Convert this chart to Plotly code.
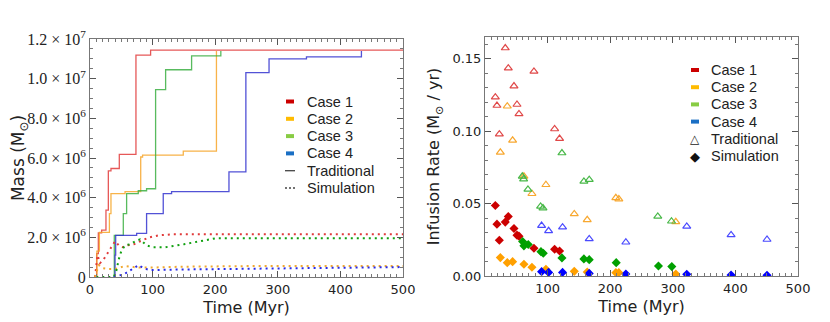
import plotly.graph_objects as go

# ---------------------------------------------------------------------------
# Left panel: cumulative mass (step lines = Traditional, dotted = Simulation)
# ---------------------------------------------------------------------------
trad1_t = [10.6, 10.6, 13.3, 18.6, 25.5, 29.3, 33.5, 46.8, 73.4, 96.8, 500]
trad1_m = [0, 1.18e6, 2.22e6, 2.36e6, 3.37e6, 5.35e6, 5.47e6, 6.18e6, 11.19e6, 11.44e6, 11.44e6]
trad2_t = [11, 11, 15, 31, 33.5, 56, 81, 84, 149, 202]
trad2_m = [0, 1.3e6, 2.25e6, 3.2e6, 4.2e6, 4.3e6, 6.05e6, 6.15e6, 6.35e6, 11.4e6]
trad3_t = [38.8, 38.8, 53.2, 58.5, 77.1, 90.4, 104.8, 120.8, 162.3, 209]
trad3_m = [0, 2.1e6, 3.2e6, 4.2e6, 4.35e6, 4.45e6, 9.45e6, 10.45e6, 11.15e6, 11.4e6]
trad4_t = [40, 40, 41, 74.5, 90.4, 117, 130.3, 222, 249, 286, 345.8, 433.6]
trad4_m = [0, 1.1e6, 2.1e6, 2.2e6, 3.2e6, 4.2e6, 4.3e6, 5.3e6, 10.3e6, 11.0e6, 11.1e6, 11.4e6]

sim1_t = [8, 12, 16, 22, 28, 34, 40, 46, 52, 60, 70, 80, 95, 110, 130, 200, 300, 500]
sim1_m = [0, 1.1e6, 0.7e6, 0.9e6, 1.2e6, 1.5e6, 1.8e6, 1.6e6, 1.5e6, 1.6e6, 1.65e6, 1.8e6,
          2.0e6, 2.1e6, 2.15e6, 2.15e6, 2.15e6, 2.15e6]
sim2_t = [8, 14, 20, 30, 40, 55, 70, 80, 100, 150, 250, 500]
sim2_m = [0, 0.6e6, 0.45e6, 0.4e6, 0.4e6, 0.55e6, 0.5e6, 0.48e6, 0.48e6, 0.52e6, 0.55e6, 0.55e6]
sim3_t = [10, 38, 42, 46, 50, 56, 64, 72, 80, 90, 100, 120, 150, 180, 200, 250, 500]
sim3_m = [0, 0, 0.3e6, 0.9e6, 1.3e6, 1.6e6, 1.65e6, 1.8e6, 1.9e6, 1.6e6, 1.5e6, 1.5e6,
          1.65e6, 1.85e6, 1.95e6, 1.95e6, 1.95e6]
sim4_t = [38, 45, 55, 65, 72, 78, 85, 95, 150, 250, 350, 500]
sim4_m = [0, 0.05e6, 0.15e6, 0.35e6, 0.5e6, 0.6e6, 0.45e6, 0.35e6, 0.38e6, 0.42e6, 0.46e6, 0.5e6]

mass_ticks = [0, 2e6, 4e6, 6e6, 8e6, 10e6, 12e6]
mass_labels = ['0', '2.0 × 10<sup>6</sup>', '4.0 × 10<sup>6</sup>', '6.0 × 10<sup>6</sup>',
               '8.0 × 10<sup>6</sup>', '1.0 × 10<sup>7</sup>', '1.2 × 10<sup>7</sup>']

# ---------------------------------------------------------------------------
# Right panel: infusion rate (open triangles = Traditional, diamonds = Simulation)
# ---------------------------------------------------------------------------
r1_t = [16.5, 19.1, 22.9, 32.4, 37.2, 46.3, 51.1, 54.3, 78.2, 111.2, 119.1]
r1_trad = [0.1235, 0.1177, 0.0979, 0.1574, 0.1435, 0.1311, 0.1184, 0.1119, 0.1412, 0.1015, 0.0949]
r1_sim = [0.0487, 0.0358, 0.0247, 0.0372, 0.0411, 0.0328, 0.0282, 0.0275, 0.0192, 0.0185, 0.0173]

r2_t = [24.5, 35.6, 44.1, 62.2, 75.0, 97.3, 142.6, 163.3, 209.0, 213.8, 304.8]
r2_trad = [0.0854, 0.1172, 0.0937, 0.0688, 0.0568, 0.0630, 0.0429, 0.0388, 0.0540, 0.0531, 0.0374]
r2_sim = [0.0127, 0.0092, 0.0099, 0.0081, 0.0060, 0.0046, 0.0032, 0.0028, 0.0023, 0.0023, 0.0014]

r3_trad_t = [59.6, 61.7, 68.6, 88.8, 92.6, 122.9, 158.0, 166.5, 276.0, 297.9]
r3_trad = [0.0688, 0.0669, 0.0598, 0.0480, 0.0469, 0.0849, 0.0653, 0.0665, 0.0411, 0.0378]
r3_sim_t = [60.1, 62.2, 69.1, 89.4, 93.1, 122.9, 158.0, 166.5, 209.6, 277.1, 298.4]
r3_sim = [0.0238, 0.0208, 0.0217, 0.0168, 0.0157, 0.0125, 0.0118, 0.0113, 0.0092, 0.0069, 0.0065]

r4_t = [90.4, 101.6, 123.9, 166.5, 225.0, 322.3, 393.1, 450.5]
r4_trad = [0.0348, 0.0312, 0.0337, 0.0256, 0.0233, 0.0342, 0.0284, 0.0252]
r4_sim = [0.0030, 0.0025, 0.0025, 0.0018, 0.0014, 0.0012, 0.0007, 0.0005]

case_names = ['Case 1', 'Case 2', 'Case 3', 'Case 4']
legend_colors = ['#cc0000', '#ffbb00', '#88cc44', '#1a6fc4']
line_colors = ['#e23c3c', '#f7a62a', '#3cb043', '#3434d0']
dot_colors = ['#e03a3a', '#f0a830', '#10a010', '#2a2ae6']
tri_colors = ['#e04848', '#f8a830', '#48b848', '#4a4aff']
dia_colors = ['#cc0000', '#ffa000', '#00a000', '#0000ff']

# The page body adds an 8px margin, so the figure is 8px smaller than the
# window and screen positions are shifted back by 8px.
OFF = 8
W, H = 830 - OFF, 322 - OFF


def px_x(v):
    return (v - OFF) / W


def px_y(v):
    return 1 - (v - OFF) / H


fig = go.Figure()

# Left panel traces
for t, m, c in zip([trad1_t, trad2_t, trad3_t, trad4_t], [trad1_m, trad2_m, trad3_m, trad4_m],
                   line_colors):
    fig.add_trace(go.Scatter(x=t, y=m, mode='lines', line=dict(color=c, width=1.3, shape='hv'),
                             opacity=0.85, showlegend=False, xaxis='x', yaxis='y'))
for t, m, c in zip([sim1_t, sim2_t, sim3_t, sim4_t], [sim1_m, sim2_m, sim3_m, sim4_m],
                   dot_colors):
    fig.add_trace(go.Scatter(x=t, y=m, mode='lines',
                             line=dict(color=c, width=2, dash='2px,4px'),
                             showlegend=False, xaxis='x', yaxis='y'))

# Right panel traces
for t, r, c in zip([r1_t, r2_t, r3_trad_t, r4_t], [r1_trad, r2_trad, r3_trad, r4_trad], tri_colors):
    fig.add_trace(go.Scatter(x=t, y=r, mode='markers',
                             marker=dict(symbol='triangle-up-open', size=7, color=c,
                                         line=dict(width=1.2, color=c)),
                             showlegend=False, xaxis='x2', yaxis='y2'))
for t, r, c in zip([r1_t, r2_t, r3_sim_t, r4_t], [r1_sim, r2_sim, r3_sim, r4_sim], dia_colors):
    fig.add_trace(go.Scatter(x=t, y=r, mode='markers',
                             marker=dict(symbol='diamond', size=7, color=c),
                             showlegend=False, xaxis='x2', yaxis='y2'))

# ---------------------------------------------------------------------------
# Hand-placed legends (pixel positions -> paper coordinates)
# ---------------------------------------------------------------------------
legend_font = dict(family='Liberation Sans', size=14.5, color='#222222')
shapes = []
annotations = []


def add_legend(key_x, text_x, row_y, spacing, panel):
    for i, (name, c) in enumerate(zip(case_names, legend_colors)):
        y = row_y + i * spacing
        shapes.append(dict(type='rect', xref='paper', yref='paper',
                           x0=px_x(key_x - 4), x1=px_x(key_x + 4),
                           y0=px_y(y + 2), y1=px_y(y - 2),
                           fillcolor=c, line=dict(width=0)))
        annotations.append(dict(text=name, xref='paper', yref='paper', x=px_x(text_x),
                                y=px_y(y), xanchor='left', yanchor='middle',
                                showarrow=False, font=legend_font))
    y5 = row_y + 4 * spacing
    y6 = row_y + 5 * spacing
    if panel == 'left':
        shapes.append(dict(type='line', xref='paper', yref='paper',
                           x0=px_x(key_x - 5), x1=px_x(key_x + 5), y0=px_y(y5), y1=px_y(y5),
                           line=dict(color='#444444', width=1.3)))
        shapes.append(dict(type='line', xref='paper', yref='paper',
                           x0=px_x(key_x - 5), x1=px_x(key_x + 5), y0=px_y(y6), y1=px_y(y6),
                           line=dict(color='#444444', width=1.3, dash='2px,2px')))
    else:
        annotations.append(dict(text='△', xref='paper', yref='paper', x=px_x(key_x),
                                y=px_y(y5), xanchor='center', yanchor='middle',
                                showarrow=False,
                                font=dict(family='DejaVu Sans', size=12, color='#222222')))
        annotations.append(dict(text='◆', xref='paper', yref='paper', x=px_x(key_x),
                                y=px_y(y6), xanchor='center', yanchor='middle',
                                showarrow=False,
                                font=dict(family='DejaVu Sans', size=13, color='#111111')))
    for name, y in [('Traditional', y5), ('Simulation', y6)]:
        annotations.append(dict(text=name, xref='paper', yref='paper', x=px_x(text_x),
                                y=px_y(y), xanchor='left', yanchor='middle',
                                showarrow=False, font=legend_font))


add_legend(key_x=290, text_x=305, row_y=101.5, spacing=17.3, panel='left')
add_legend(key_x=695, text_x=709, row_y=70, spacing=17.2, panel='right')

axis_common = dict(showline=True, linecolor='#777777', linewidth=1, mirror='ticks',
                   ticks='inside', ticklen=6, tickcolor='#555555', showgrid=False,
                   zeroline=False, automargin=False)
tick_font = dict(family='DejaVu Sans', size=13, color='#222222')
title_font = dict(family='DejaVu Sans', size=16, color='#222222')

fig.update_layout(
    width=W, height=H,
    margin=dict(l=0, r=0, t=0, b=0),
    paper_bgcolor='white', plot_bgcolor='white',
    showlegend=False,
    shapes=shapes,
    annotations=annotations,
    xaxis=dict(domain=[px_x(90), px_x(403)], range=[0, 500],
               tickvals=[0, 100, 200, 300, 400, 500], tickfont=tick_font,
               title=dict(text='Time (Myr)', font=title_font, standoff=6),
               minor=dict(dtick=10, ticks='inside', ticklen=3, tickcolor='#777777'),
               anchor='y', **axis_common),
    yaxis=dict(domain=[px_y(277), px_y(39)], range=[0, 1.2e7],
               tickvals=mass_ticks, ticktext=mass_labels,
               tickfont=dict(family='Liberation Serif', size=16, color='#222222'),
               title=dict(text='Mass (M<sub>⊙</sub>)', font=dict(family='DejaVu Sans', size=17,
                                                                 color='#222222'), standoff=6),
               minor=dict(dtick=5e5, ticks='inside', ticklen=3, tickcolor='#777777'),
               anchor='x', **axis_common),
    xaxis2=dict(domain=[px_x(485), px_x(798)], range=[0, 500],
                tickvals=[100, 200, 300, 400, 500], tickfont=tick_font,
                title=dict(text='Time (Myr)', font=title_font, standoff=6),
                minor=dict(dtick=10, ticks='inside', ticklen=3, tickcolor='#777777'),
                anchor='y2', **axis_common),
    yaxis2=dict(domain=[px_y(276), px_y(37)], range=[0, 0.165],
                tickvals=[0, 0.05, 0.10, 0.15], ticktext=['0.00', '0.05', '0.10', '0.15'],
                tickfont=tick_font,
                title=dict(text='Infusion Rate (M<sub>⊙</sub> / yr)', font=title_font, standoff=8),
                minor=dict(dtick=0.01, ticks='inside', ticklen=3, tickcolor='#777777'),
                anchor='x2', **axis_common),
)

fig.write_html("out.html")
